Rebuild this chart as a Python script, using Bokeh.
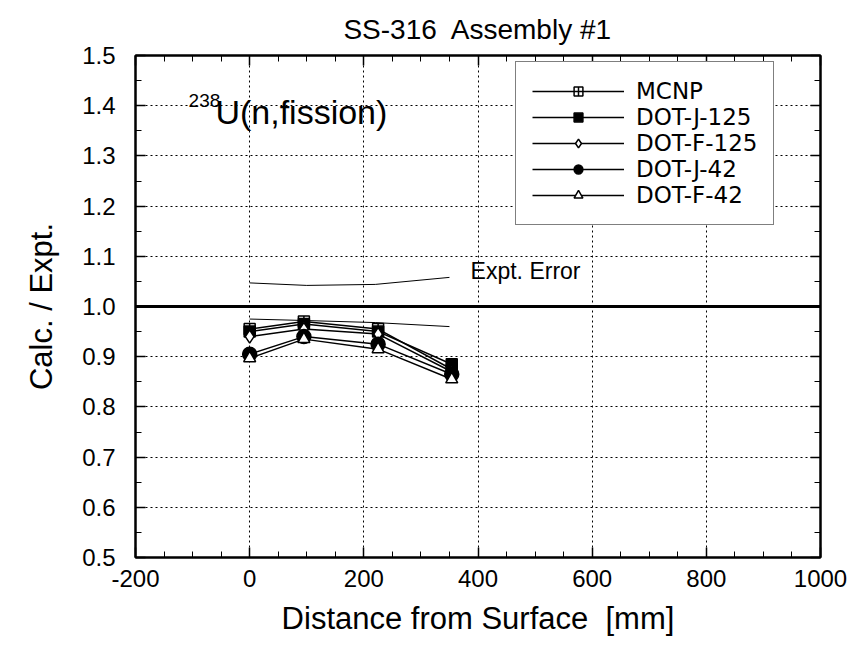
from bokeh.plotting import figure
from bokeh.models import (Span, Label, LinearAxis, Range1d, Title, Legend, FixedTicker,
                          PrintfTickFormatter, CustomJSTickFormatter)
from bokeh.embed import file_html
from bokeh.resources import INLINE

# ---- data ----
distance = [0, 95, 225, 354]
mcnp = [0.955, 0.970, 0.955, 0.875]
dot_j_125 = [0.950, 0.965, 0.950, 0.885]
dot_f_125 = [0.940, 0.955, 0.945, 0.870]
dot_j_42 = [0.905, 0.940, 0.925, 0.865]
dot_f_42 = [0.897, 0.935, 0.915, 0.855]

err_x = [0, 100, 220, 350]
err_upper = [1.047, 1.042, 1.044, 1.058]
err_lower = [0.975, 0.972, 0.968, 0.960]

x_ticks = [-200, 0, 200, 400, 600, 800, 1000]
y_ticks = [0.5, 0.6, 0.7, 0.8, 0.9, 1.0, 1.1, 1.2, 1.3, 1.4, 1.5]
x_minor = [-200 + 50 * i for i in range(25)]
y_minor = [0.5 + 0.05 * i for i in range(21)]

FONT = "Liberation Sans"
NB = "\u00a0"

p = figure(width=858, height=649, output_backend="svg", toolbar_location=None,
           x_range=Range1d(-200, 1000), y_range=Range1d(0.5, 1.5),
           min_border_left=135, min_border_right=38, min_border_top=54,
           min_border_bottom=92)
p.title = None

p.outline_line_color = "black"
p.outline_line_width = 2
p.background_fill_color = "white"
p.border_fill_color = "white"

xt = FixedTicker(ticks=x_ticks, minor_ticks=x_minor)
yt = FixedTicker(ticks=y_ticks, minor_ticks=y_minor)
p.xaxis[0].ticker = xt
p.yaxis[0].ticker = yt
p.xaxis[0].formatter = PrintfTickFormatter(format="%d")
p.yaxis[0].formatter = PrintfTickFormatter(format="%.1f")

for ax in [p.xaxis[0], p.yaxis[0]]:
    ax.axis_line_width = 2
    ax.major_tick_in = 10
    ax.major_tick_out = 0
    ax.minor_tick_in = 6
    ax.minor_tick_out = 0
    ax.major_tick_line_width = 1.5
    ax.major_label_text_font = FONT
    ax.major_label_text_font_size = "24px"
    ax.major_label_text_color = "black"
    ax.axis_label_text_font = FONT
    ax.axis_label_text_font_size = "31px"
    ax.axis_label_text_font_style = "normal"
    ax.axis_label_text_color = "black"

p.xaxis.major_label_standoff = 12
p.yaxis.major_label_standoff = 20
p.xaxis.axis_label = "Distance from Surface" + NB + " [mm]"
p.yaxis.axis_label = "Calc. / Expt."
p.xaxis.axis_label_standoff = 11
p.yaxis.axis_label_standoff = 20

# top and right axes (ticks only)
blank = CustomJSTickFormatter(code="return ''")
top = LinearAxis(ticker=xt, formatter=blank, axis_line_width=2, major_label_standoff=0,
                 major_tick_in=10, major_tick_out=0, minor_tick_in=6, minor_tick_out=0,
                 major_tick_line_width=1.5)
right = LinearAxis(ticker=yt, formatter=blank, axis_line_width=2, major_label_standoff=0,
                   major_tick_in=10, major_tick_out=0, minor_tick_in=6, minor_tick_out=0,
                   major_tick_line_width=1.5)
p.add_layout(top, "above")
p.add_layout(right, "right")
p.add_layout(Title(text="SS-316" + NB + " Assembly #1", text_font=FONT, text_font_size="28px",
                   text_font_style="normal", align="center", standoff=22,
                   text_color="black"), "above")

p.xgrid.ticker = xt
p.ygrid.ticker = yt
for g in [p.xgrid[0], p.ygrid[0]]:
    g.grid_line_color = "black"
    g.grid_line_dash = "2 3"
    g.grid_line_width = 1

p.add_layout(Span(location=1.0, dimension="width", line_color="black", line_width=3))

# experimental error lines
p.line(err_x, err_upper, line_color="black", line_width=1)
p.line(err_x, err_lower, line_color="black", line_width=1)

series = [
    ("MCNP", mcnp, "square_cross", "white", 11),
    ("DOT-J-125", dot_j_125, "square", "black", 11),
    ("DOT-F-125", dot_f_125, "diamond", "white", 13),
    ("DOT-J-42", dot_j_42, "circle", "black", 14),
    ("DOT-F-42", dot_f_42, "triangle", "white", 12),
]
items = []
for name, vals, marker, fill, size in series:
    l = p.line(distance, vals, line_color="black", line_width=1.5)
    s = p.scatter(distance, vals, marker=marker, size=size, fill_color=fill,
                  line_color="black", line_width=1.5)
    items.append((name, [l, s]))

legend = Legend(items=items, location=(380, 332), orientation="vertical",
                label_text_font="DejaVu Sans", label_text_font_size="23px",
                label_text_color="black",
                glyph_width=92, glyph_height=22, label_height=22, spacing=0,
                padding=16, margin=0, label_standoff=12,
                border_line_color="black", border_line_width=1.5,
                background_fill_color="white", background_fill_alpha=1.0)
p.add_layout(legend, "center")

p.add_layout(Label(x=-107, y=1.41, text="238", text_font=FONT, text_font_size="19px",
                   text_baseline="middle", text_color="black"))
p.add_layout(Label(x=-60, y=1.388, text="U(n,fission)", text_font=FONT, text_font_size="34px",
                   text_baseline="middle", text_color="black"))
p.add_layout(Label(x=387, y=1.07, text="Expt. Error", text_font=FONT, text_font_size="23px",
                   text_baseline="middle", text_color="black"))

open("out.html", "w").write(file_html(p, INLINE))
